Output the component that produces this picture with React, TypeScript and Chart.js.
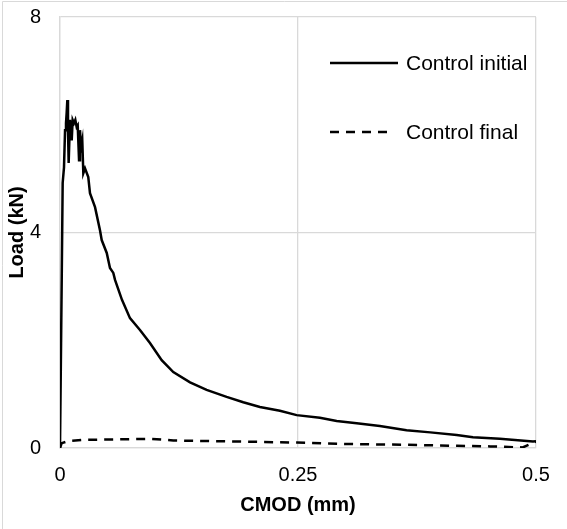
import React, { useEffect, useRef } from "react";
import { Chart, registerables } from "chart.js";

Chart.register(...registerables);

const initialX = [0, 0.0018, 0.0028, 0.0042, 0.0053, 0.0063, 0.007, 0.0077, 0.0084, 0.0091, 0.0105, 0.0123, 0.0133, 0.0147, 0.0161, 0.0175, 0.0186, 0.02, 0.021, 0.0221, 0.0234, 0.0245, 0.0263, 0.0297, 0.0315, 0.0368, 0.042, 0.0438, 0.0491, 0.0525, 0.056, 0.0578, 0.0651, 0.0735, 0.084, 0.0945, 0.1068, 0.119, 0.1366, 0.154, 0.175, 0.1925, 0.21, 0.231, 0.2486, 0.273, 0.2906, 0.3117, 0.336, 0.364, 0.389, 0.4167, 0.4338, 0.462, 0.4968, 0.5];
const initialY = [0, 3.12, 4.92, 5.21, 5.9, 6.03, 6.22, 6.46, 5.9, 5.29, 6.09, 5.71, 6.09, 6.03, 6.09, 5.96, 5.99, 5.34, 5.9, 5.58, 5.71, 5.1, 5.19, 5.03, 4.73, 4.47, 4.04, 3.86, 3.62, 3.34, 3.25, 3.12, 2.75, 2.41, 2.19, 1.95, 1.63, 1.41, 1.22, 1.08, 0.95, 0.85, 0.76, 0.69, 0.61, 0.56, 0.5, 0.46, 0.41, 0.33, 0.29, 0.24, 0.2, 0.17, 0.12, 0.125];

const finalX = [0, 0.0018, 0.0087, 0.024, 0.06, 0.095, 0.119, 0.189, 0.249, 0.312, 0.364, 0.417, 0.452, 0.486, 0.5];
const finalY = [0, 0.09, 0.13, 0.15, 0.16, 0.17, 0.14, 0.12, 0.1, 0.07, 0.06, 0.04, 0.03, 0.01, 0.12];

const xTickValues = [0, 0.25, 0.5];
const yTickValues = [0, 4, 8];

const seriesNames = ["Control initial", "Control final"];
const xTitle = "CMOD (mm)";
const yTitle = "Load (kN)";

const FONT = "'Liberation Sans', Arial, sans-serif";
const GRID = "#d9d9d9";

const toPoints = (xs: number[], ys: number[]) => xs.map((x, i) => ({ x, y: ys[i] }));

const framePlugin = {
  id: "frame",
  beforeDraw(chart: any) {
    const ctx = chart.ctx;
    ctx.save();
    ctx.strokeStyle = GRID;
    ctx.lineWidth = 1;
    ctx.beginPath();
    ctx.moveTo(2.5, chart.height);
    ctx.lineTo(2.5, 1.5);
    ctx.lineTo(chart.width, 1.5);
    ctx.stroke();
    ctx.restore();
  },
};

const legendPlugin = {
  id: "insideLegend",
  afterDraw(chart: any) {
    const ctx = chart.ctx;
    const ys = [63, 132];
    ctx.save();
    chart.data.datasets.forEach((ds: any, i: number) => {
      const y = ys[i];
      ctx.strokeStyle = ds.borderColor;
      ctx.lineWidth = ds.borderWidth;
      ctx.setLineDash(ds.borderDash || []);
      ctx.beginPath();
      ctx.moveTo(330, y);
      ctx.lineTo(i === 0 ? 398 : 393, y);
      ctx.stroke();
      ctx.setLineDash([]);
      ctx.fillStyle = "#000";
      ctx.font = `21px ${FONT}`;
      ctx.textBaseline = "middle";
      ctx.textAlign = "left";
      ctx.fillText(ds.label, 406, y + 1);
    });
    ctx.restore();
  },
};

export default function App() {
  const ref = useRef<HTMLCanvasElement>(null);
  useEffect(() => {
    if (!ref.current) return;
    const chart = new Chart(ref.current, {
      type: "line",
      data: {
        datasets: [
          {
            label: seriesNames[0],
            data: toPoints(initialX, initialY),
            borderColor: "#000",
            borderWidth: 2.5,
            pointRadius: 0,
            tension: 0,
            fill: false,
          },
          {
            label: seriesNames[1],
            data: toPoints(finalX, finalY),
            borderColor: "#000",
            borderWidth: 2.5,
            borderDash: [9, 7],
            pointRadius: 0,
            tension: 0,
            fill: false,
          },
        ],
      },
      options: {
        animation: false,
        responsive: false,
        devicePixelRatio: 1,
        parsing: false,
        layout: { padding: { top: 17, right: 31, bottom: 0, left: 0 } },
        plugins: { legend: { display: false }, tooltip: { enabled: false } },
        scales: {
          x: {
            type: "linear",
            min: 0,
            max: 0.5,
            afterFit: (s: any) => {
              s.height = 81;
              s.paddingLeft = 0;
              s.paddingRight = 0;
            },
            afterBuildTicks: (s: any) => {
              s.ticks = xTickValues.map((v) => ({ value: v }));
            },
            ticks: {
              color: "#000",
              padding: 15,
              maxRotation: 0,
              font: { family: FONT, size: 20 },
              callback: (v: any) => String(v),
            },
            grid: { color: GRID, lineWidth: 1.3, drawTicks: false },
            border: { color: GRID, width: 1.3 },
            title: {
              display: true,
              text: xTitle,
              color: "#000",
              font: { family: FONT, size: 20, weight: "bold" },
              padding: { top: 0, bottom: 12 },
            },
          },
          y: {
            type: "linear",
            min: 0,
            max: 8,
            afterFit: (s: any) => {
              s.width = 60;
              s.paddingTop = 0;
              s.paddingBottom = 0;
            },
            afterBuildTicks: (s: any) => {
              s.ticks = yTickValues.map((v) => ({ value: v }));
            },
            ticks: {
              color: "#000",
              padding: 19,
              font: { family: FONT, size: 20 },
              callback: (v: any) => String(v),
            },
            grid: { color: GRID, lineWidth: 1.3, drawTicks: false },
            border: { color: GRID, width: 1.3 },
            title: {
              display: true,
              text: yTitle,
              color: "#000",
              font: { family: FONT, size: 20, weight: "bold" },
              padding: { top: 5, bottom: 0 },
            },
          },
        },
      },
      plugins: [framePlugin, legendPlugin],
    });
    return () => chart.destroy();
  }, []);
  return (
    <div style={{ position: "fixed", left: 0, top: 0, width: 567, height: 529, background: "#fff" }}>
      <canvas ref={ref} width={567} height={529} style={{ display: "block" }} />
    </div>
  );
}
